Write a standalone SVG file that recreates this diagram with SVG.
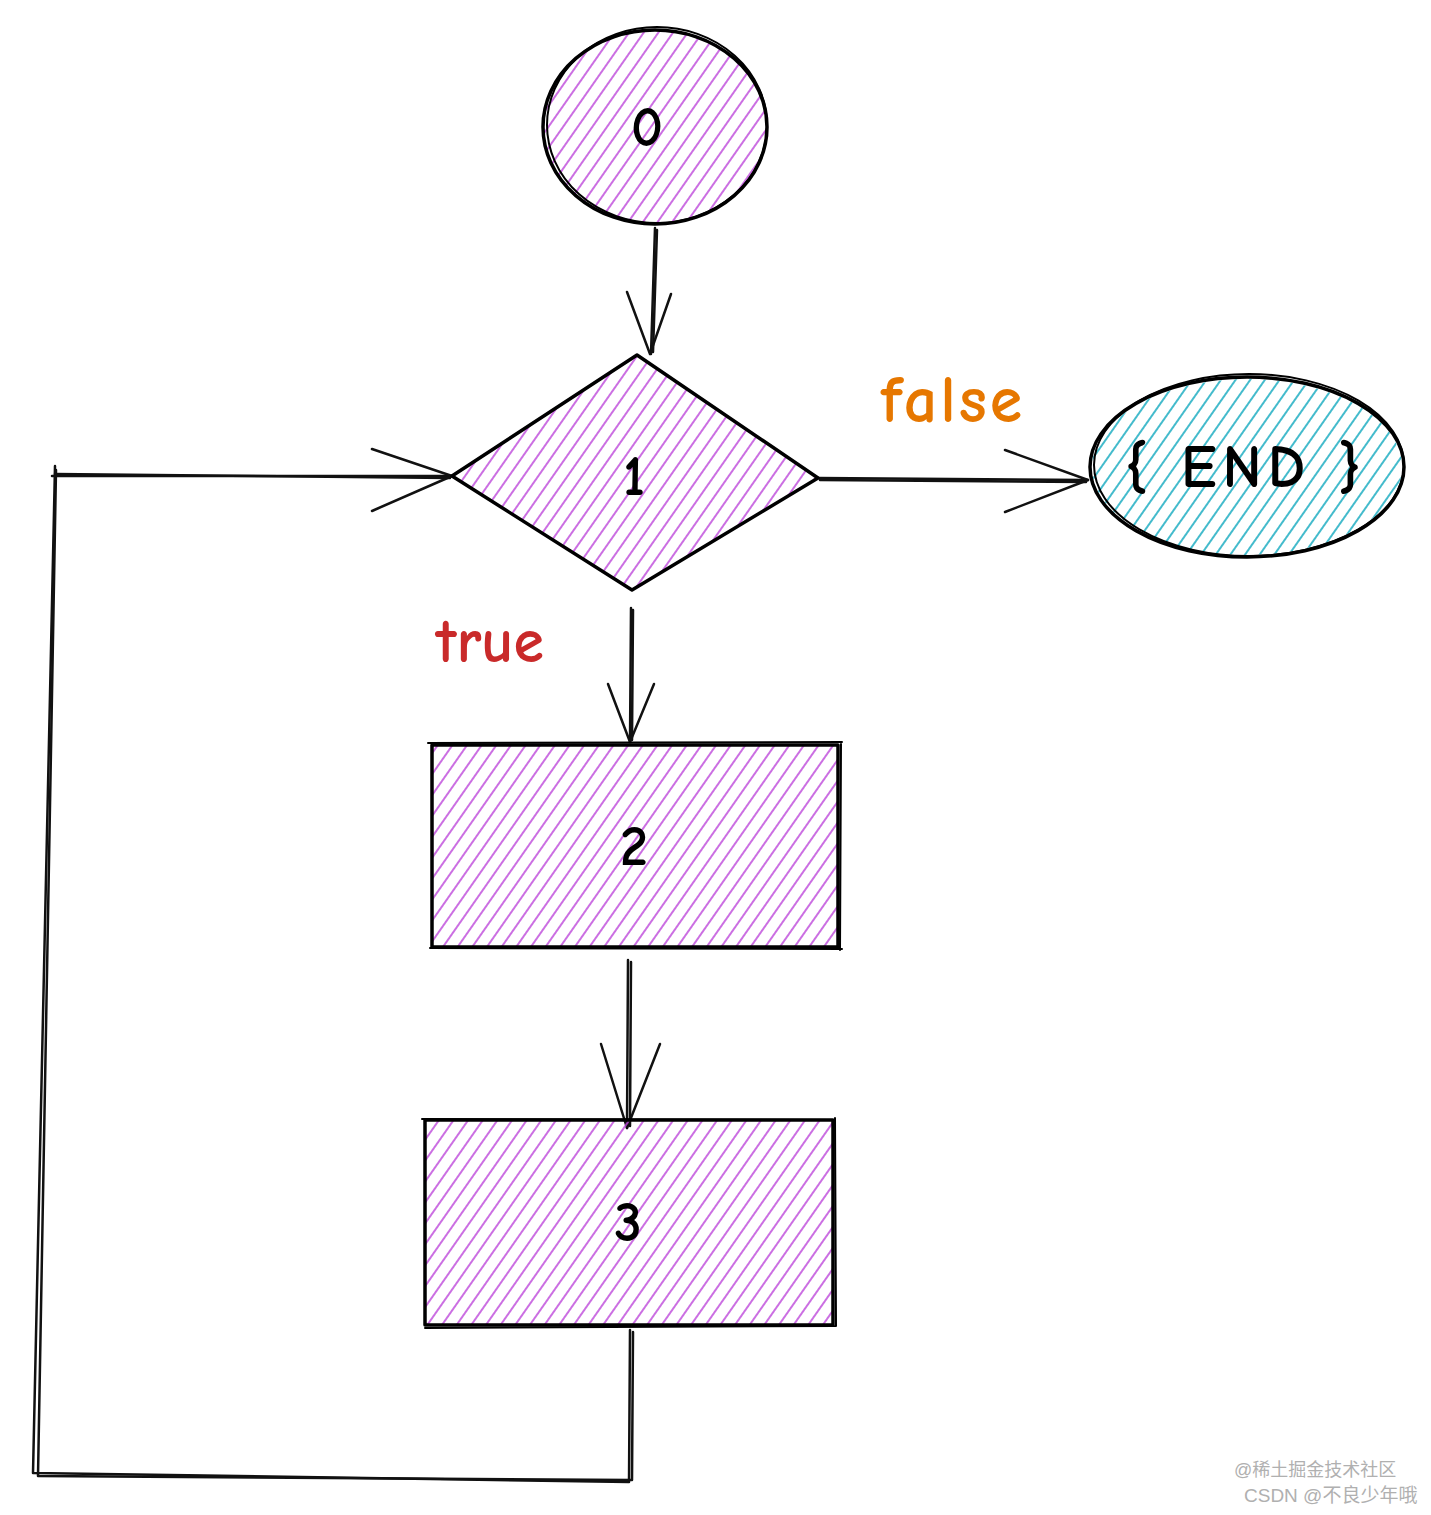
<svg xmlns="http://www.w3.org/2000/svg" width="1431" height="1515" viewBox="0 0 1431 1515">
<style>
.o{fill:none;stroke:#000;stroke-width:3.5;stroke-linecap:round;stroke-linejoin:round}
.o2{fill:none;stroke:#000;stroke-width:2;stroke-linecap:round;stroke-linejoin:round}
.c{fill:none;stroke:#111;stroke-width:2.5;stroke-linecap:round;stroke-linejoin:round}
.lbl{font-family:"Comic Neue","Liberation Sans",sans-serif;font-size:56px;text-anchor:middle;fill:#000;font-weight:bold}
.wm{font-family:"Liberation Sans","Noto Sans CJK SC",sans-serif;font-size:19px;fill:#b0b0b0}
</style>
<defs>
<pattern id="hp" width="12" height="12" patternUnits="userSpaceOnUse" patternTransform="rotate(-55)">
<line x1="0" y1="6" x2="12" y2="6" stroke="#be4bdb" stroke-width="1.6"/>
</pattern>
<pattern id="hc" width="12" height="12" patternUnits="userSpaceOnUse" patternTransform="rotate(-55)">
<line x1="0" y1="6" x2="12" y2="6" stroke="#15aabf" stroke-width="1.6"/>
</pattern>
</defs>
<rect width="1431" height="1515" fill="#fff"/>
<g id="connectors">
<path class="c" d="M655 228 L651 354"/><path class="c" d="M657 230 L653 352"/>
<path class="c" d="M627 292 L650 354 L671 294"/>
<path class="c" d="M818 478 L1088 480"/><path class="c" d="M820 480 L1086 482"/>
<path class="c" d="M1005 450 L1088 480 L1005 512"/>
<path class="c" d="M631 608 L630 742"/><path class="c" d="M633 610 L632 740"/>
<path class="c" d="M608 684 L630 742 L654 684"/>
<path class="c" d="M628 960 L627 1128"/><path class="c" d="M631 962 L630 1126"/>
<path class="c" d="M601 1044 L627 1128 L660 1044"/>
<path class="c" d="M630 1330 L629 1482 L33 1473 L55 466"/>
<path class="c" d="M633 1332 L632 1480 L38 1476 L56 470"/>
<path class="c" d="M52 476 L452 476"/><path class="c" d="M55 474 L450 478"/>
<path class="c" d="M372 449 L452 476 L372 511"/>
</g>
<g id="node-0">
<ellipse cx="655" cy="127" rx="111" ry="96" fill="url(#hp)"/>
<ellipse class="o" cx="655" cy="127" rx="112" ry="97"/>
<ellipse class="o2" cx="657" cy="125" rx="110" ry="98"/>
<text class="lbl" x="647" y="146">0</text>
</g>
<g id="node-1">
<polygon points="637,355 818,478 632,590 452,476" fill="url(#hp)"/>
<polygon class="o" points="637,355 818,478 632,590 452,476"/>
<text class="lbl" x="634" y="495">1</text>
</g>
<g id="node-end">
<ellipse cx="1247" cy="467" rx="155" ry="88" fill="url(#hc)"/>
<ellipse class="o" cx="1247" cy="467" rx="157" ry="90"/>
<ellipse class="o2" cx="1249" cy="465" rx="155" ry="91"/>
<text class="lbl" x="1246" y="487" style="font-size:60px;letter-spacing:6px">{ END }</text>
</g>
<g id="node-2">
<rect x="432" y="745" width="406" height="202" fill="url(#hp)"/>
<rect class="o" x="432" y="745" width="406" height="202"/>
<path class="o2" d="M428 743 L842 742 M430 948 L842 949 M841 742 L840 950"/>
<text class="lbl" x="634" y="865">2</text>
</g>
<g id="node-3">
<rect x="425" y="1120" width="408" height="205" fill="url(#hp)"/>
<rect class="o" x="425" y="1120" width="408" height="205"/>
<path class="o2" d="M422 1119 L834 1120 M425 1328 L836 1326 M835 1118 L836 1326"/>
<text class="lbl" x="628" y="1241">3</text>
</g>
<text x="953" y="422" font-family="'Comic Neue','Liberation Sans',sans-serif" font-size="66" fill="#e67700" text-anchor="middle" font-weight="bold" letter-spacing="3">false</text>
<text x="490" y="662" font-family="'Comic Neue','Liberation Sans',sans-serif" font-size="62" fill="#c92a2a" text-anchor="middle" font-weight="bold">true</text>
<text class="wm" x="1234" y="1476" style="font-size:18px">@稀土掘金技术社区</text>
<text class="wm" x="1244" y="1502">CSDN @不良少年哦</text>
</svg>
